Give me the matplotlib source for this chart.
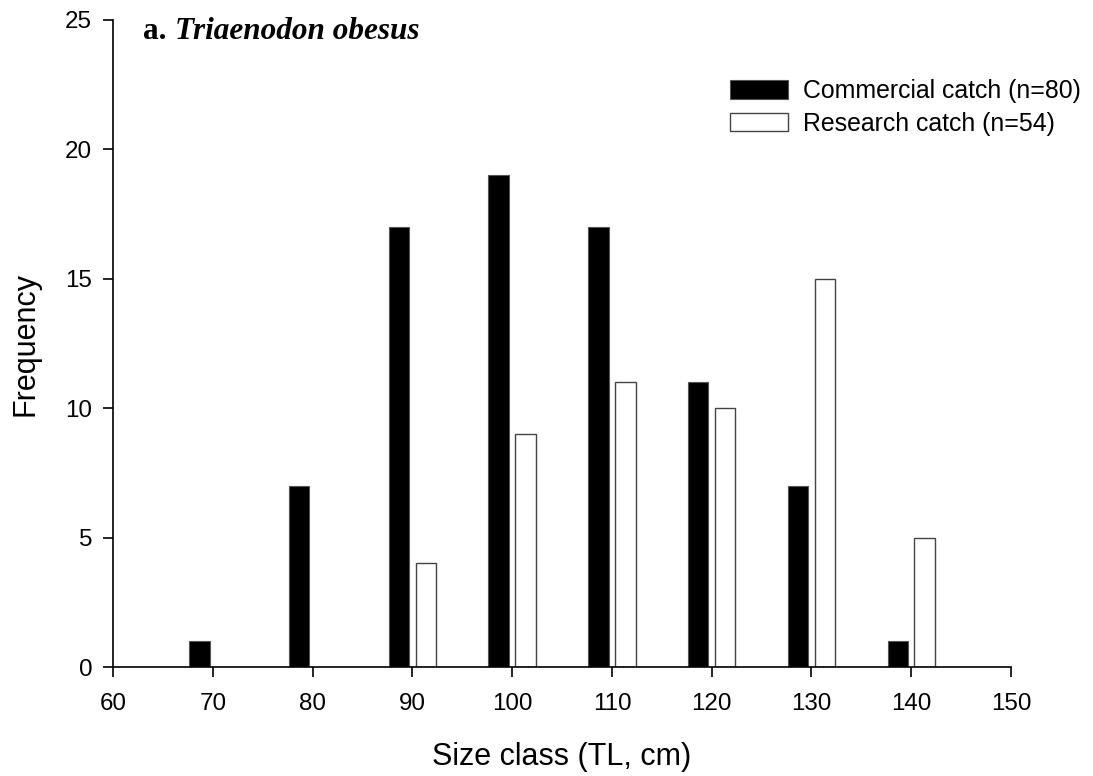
import numpy as np
import matplotlib.pyplot as plt

size_class = [70, 80, 90, 100, 110, 120, 130, 140]
commercial = [1, 7, 17, 19, 17, 11, 7, 1]
research = [0, 0, 4, 9, 11, 10, 15, 5]

plt.rcParams['font.family'] = ['Liberation Sans', 'DejaVu Sans']

fig = plt.figure(figsize=(10.93, 7.76), dpi=100)
ax = fig.add_axes([113/1093, 1 - 667/776, 898/1093, 647/776])

x = np.array(size_class)
res = np.array(research, dtype=float)
ax.bar(x - 1.35, commercial, width=2.05, color='black', edgecolor='#555555',
       linewidth=0.8, label='Commercial catch (n=80)')
ax.bar(x[res > 0] + 1.35, res[res > 0], width=2.05, color='white', edgecolor='#444444',
       linewidth=1.0, label='Research catch (n=54)')

ax.set_xlim(60, 150)
ax.set_ylim(0, 25)
ax.set_xticks(range(60, 151, 10))
ax.set_yticks(range(0, 26, 5))
ax.spines['top'].set_visible(False)
ax.spines['right'].set_visible(False)
ax.spines['left'].set_linewidth(1.2)
ax.spines['bottom'].set_linewidth(1.2)
ax.tick_params(direction='out', length=7, width=1.2, labelsize=17.4)
ax.tick_params(axis='x', pad=12)
ax.tick_params(axis='y', pad=8)
ax.set_xlabel('Size class (TL, cm)', fontsize=22, labelpad=19)
ax.set_ylabel('Frequency', fontsize=22, labelpad=18)

fig.text(143/1093, 1 - 39/776, 'a.', fontsize=22.5, fontweight='bold',
         family='Liberation Serif', va='baseline')
fig.text(175/1093, 1 - 39/776, 'Triaenodon obesus', fontsize=22.5, fontweight='bold',
         style='italic', family='Liberation Serif', va='baseline')

ax.legend(loc='upper left', bbox_to_anchor=((730 - 113) / 898, (667 - 79) / 647),
          frameon=False, fontsize=17.9, handlelength=2.35, handleheight=0.76,
          handletextpad=0.6, labelspacing=0.36, borderaxespad=0, borderpad=0)

fig.savefig('out.png', dpi=100)
